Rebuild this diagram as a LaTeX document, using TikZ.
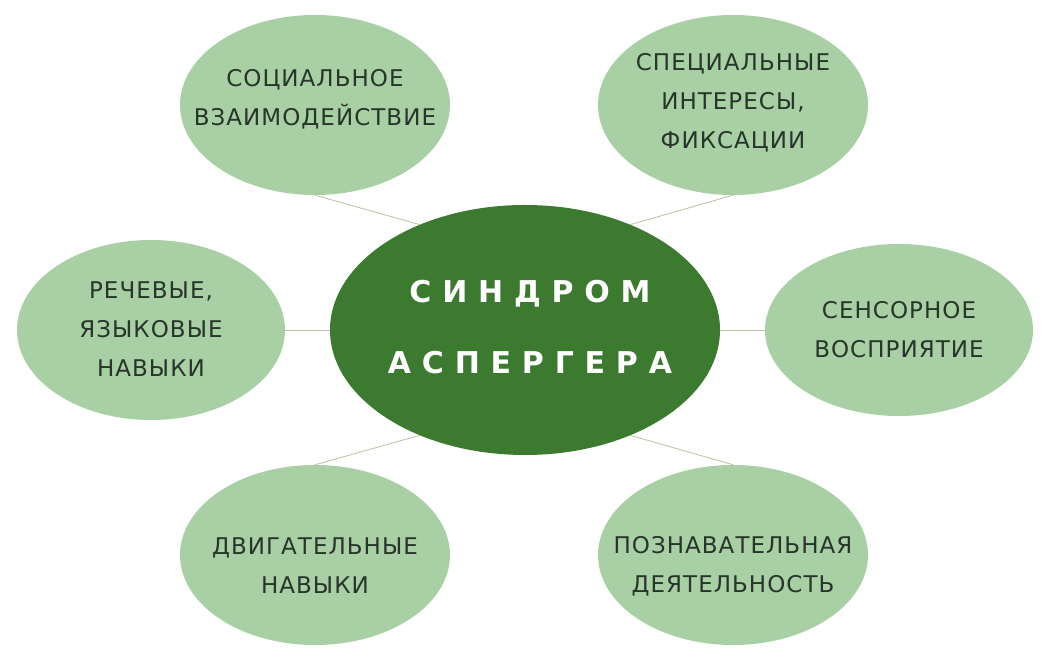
\documentclass[tikz,border=0pt]{standalone}
\usepackage{fontspec}
\setmainfont{DejaVu Sans}
\newfontfamily\hubfont[LetterSpace=36]{DejaVu Sans}
\newfontfamily\leaffont[LetterSpace=4.5]{DejaVu Sans}
\usetikzlibrary{shapes.geometric,positioning}
\definecolor{leafgreen}{HTML}{A9CFA4}
\definecolor{hubgreen}{HTML}{3B7A2F}
\definecolor{leafink}{HTML}{27352A}
\definecolor{linkgrey}{HTML}{BDBFA0}

\begin{document}
\begin{tikzpicture}[x=1pt, y=1pt,
  bubble/.style={ellipse, fill=leafgreen, inner sep=0pt, minimum width=270pt, minimum height=180pt},
  bubbletext/.style={inner sep=0pt, align=center, text=leafink, font=\leaffont\fontsize{23}{39}\selectfont},
  link/.style={draw=linkgrey, line width=0.8pt}]
\useasboundingbox (0,0) rectangle (1050,660);

\node[ellipse, fill=hubgreen, inner sep=0pt, minimum width=390pt, minimum height=250pt] (hub) at (525,330) {};
\node[inner sep=0pt, align=center, text=white, font=\hubfont\bfseries\fontsize{30}{71}\selectfont] (hubtext) at (530,333) {СИНДРОМ\\АСПЕРГЕРА};

\node[bubble] (social) at (315,555) {};
\node[bubble] (interests) at (733,555) {};
\node[bubble, minimum width=268pt] (speech) at (151,330) {};
\node[bubble, minimum width=268pt, minimum height=172pt] (sensory) at (899,330) {};
\node[bubble] (motor) at (315,105) {};
\node[bubble] (cognitive) at (733,105) {};

\node[bubbletext] (socialtext) at ([yshift=6]social.center) {СОЦИАЛЬНОЕ\\ВЗАИМОДЕЙСТВИЕ};
\node[bubbletext] (intereststext) at ([yshift=2]interests.center) {СПЕЦИАЛЬНЫЕ\\ИНТЕРЕСЫ,\\ФИКСАЦИИ};
\node[bubbletext] (speechtext) at ([yshift=1]speech.center) {РЕЧЕВЫЕ,\\ЯЗЫКОВЫЕ\\НАВЫКИ};
\node[bubbletext] (sensorytext) at (sensory.center) {СЕНСОРНОЕ\\ВОСПРИЯТИЕ};
\node[bubbletext] (motortext) at ([yshift=-11]motor.center) {ДВИГАТЕЛЬНЫЕ\\НАВЫКИ};
\node[bubbletext] (cognitivetext) at ([yshift=-11]cognitive.center) {ПОЗНАВАТЕЛЬНАЯ\\ДЕЯТЕЛЬНОСТЬ};

\draw[link] (social.south) -- (hub.135);
\draw[link] (interests.south) -- (hub.45);
\draw[link] (speech.east) -- (hub.west);
\draw[link] (hub.east) -- (sensory.west);
\draw[link] (motor.north) -- (hub.225);
\draw[link] (cognitive.north) -- (hub.315);
\end{tikzpicture}
\end{document}
